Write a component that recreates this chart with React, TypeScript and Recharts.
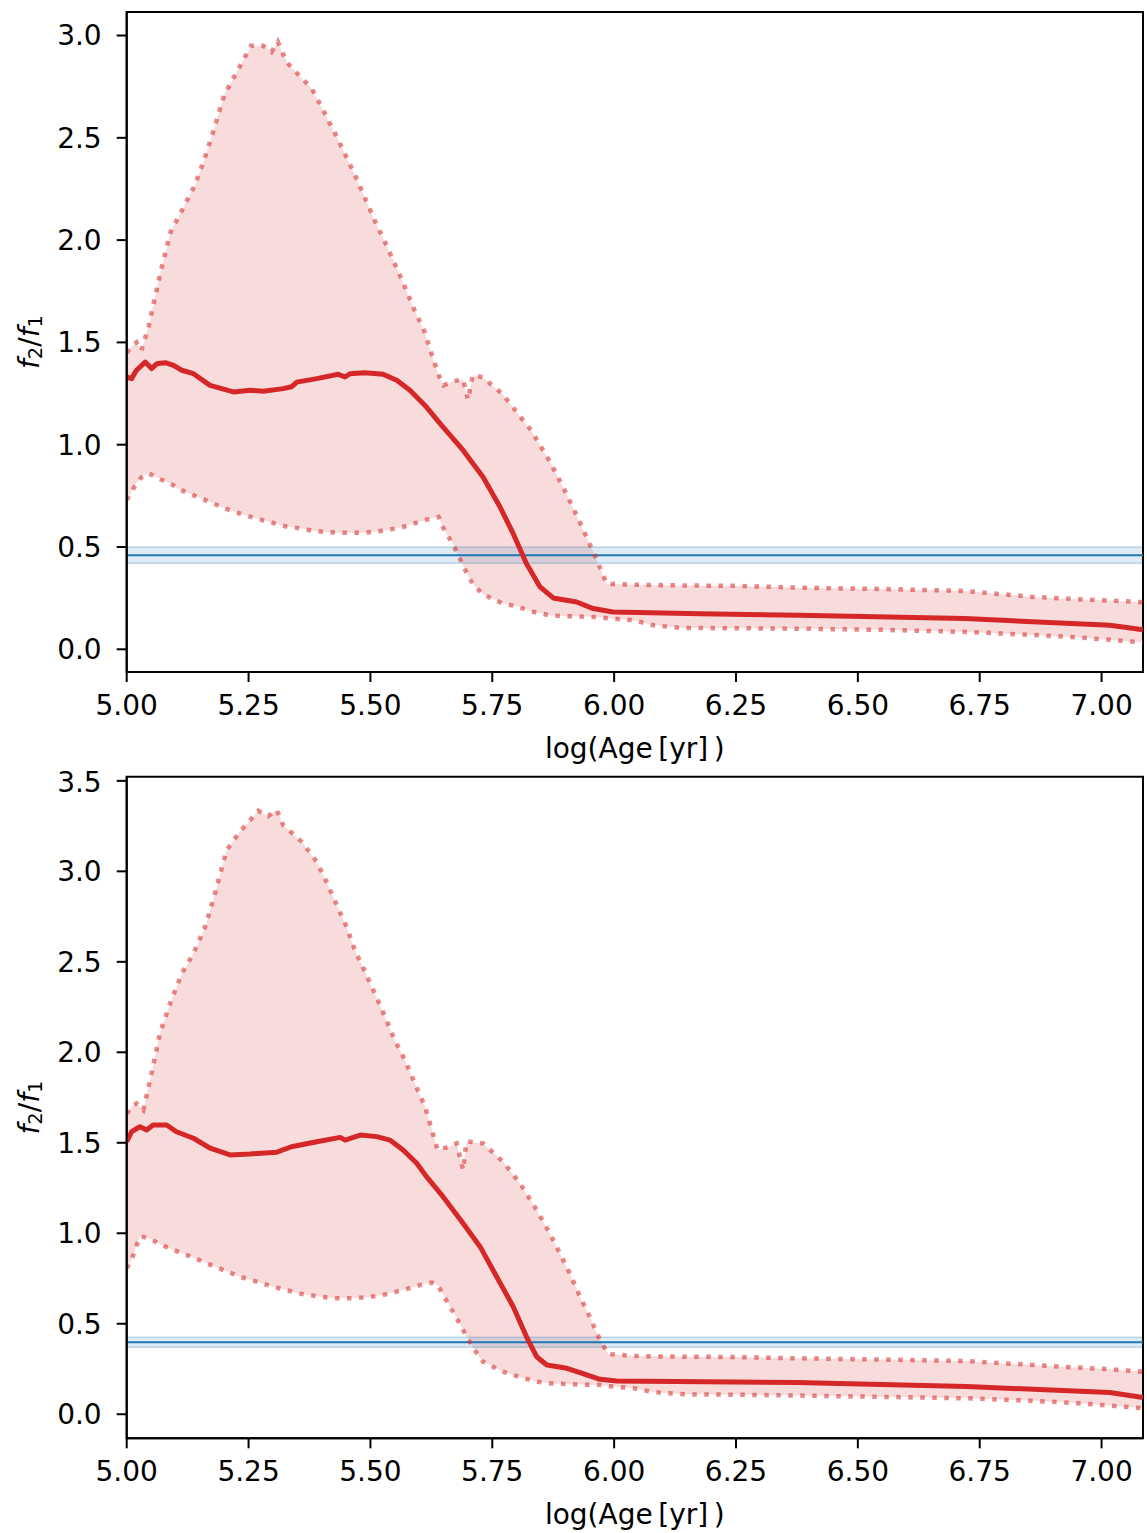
import React from "react";
import {
  ComposedChart,
  Area,
  Line,
  XAxis,
  YAxis,
  ReferenceArea,
  ReferenceLine,
} from "recharts";

const FONT = "'DejaVu Sans', sans-serif";
const RED = "#d62728";
const BLUE = "#1f77b4";
const FONT_SIZE = 28;

const AGE_MIN = 5;
const AGE_MAX = 7.085;
const AGE_TICKS = [5, 5.25, 5.5, 5.75, 6, 6.25, 6.5, 6.75, 7];

// --- upper panel ---
const BAND_AGE_A = [
  5.0, 5.01, 5.02, 5.03, 5.045, 5.07, 5.09, 5.11, 5.14, 5.16, 5.18, 5.2, 5.23,
  5.255, 5.28, 5.297, 5.31, 5.328, 5.36, 5.38, 5.4, 5.43, 5.45, 5.47, 5.49,
  5.51, 5.53, 5.55, 5.57, 5.59, 5.61, 5.626, 5.64, 5.65, 5.67, 5.69, 5.7, 5.71,
  5.73, 5.77, 5.8, 5.83, 5.87, 5.9, 5.93, 5.96, 5.985, 6.04, 6.08, 6.14, 6.25,
  6.4, 6.55, 6.72, 6.86, 6.95, 7.02, 7.085,
];
const UPPER_A = [
  1.45, 1.48, 1.5, 1.46, 1.58, 1.85, 2.04, 2.13, 2.27, 2.4, 2.55, 2.71, 2.84,
  2.95, 2.95, 2.92, 2.97, 2.87, 2.79, 2.74, 2.65, 2.51, 2.41, 2.31, 2.2, 2.09,
  1.99, 1.885, 1.775, 1.66, 1.56, 1.44, 1.34, 1.29, 1.31, 1.32, 1.22, 1.34,
  1.33, 1.25, 1.16, 1.07, 0.91, 0.77, 0.62, 0.46, 0.32, 0.316, 0.314, 0.312,
  0.31, 0.3, 0.295, 0.285, 0.256, 0.245, 0.238, 0.23,
];
const LOWER_A = [
  0.73, 0.77, 0.81, 0.84, 0.86, 0.83, 0.81, 0.78, 0.75, 0.73, 0.71, 0.69,
  0.665, 0.647, 0.63, 0.62, 0.61, 0.6, 0.59, 0.58, 0.575, 0.57, 0.57, 0.57,
  0.57, 0.575, 0.58, 0.59, 0.6, 0.615, 0.63, 0.64, 0.647, 0.59, 0.51, 0.41,
  0.36, 0.32, 0.27, 0.225, 0.21, 0.185, 0.165, 0.162, 0.16, 0.158, 0.152,
  0.142, 0.117, 0.104, 0.103, 0.1, 0.095, 0.085, 0.07, 0.058, 0.046, 0.033,
];
const MEDIAN_AGE_A = [
  5.0, 5.01, 5.02, 5.038, 5.051, 5.062, 5.079, 5.096, 5.113, 5.137, 5.171,
  5.219, 5.253, 5.28, 5.321, 5.338, 5.349, 5.39, 5.434, 5.448, 5.458, 5.489,
  5.526, 5.554, 5.581, 5.615, 5.643, 5.69, 5.731, 5.766, 5.793, 5.82, 5.848,
  5.875, 5.923, 5.957, 5.998, 6.176, 6.38, 6.72, 7.017, 7.085,
];
const MEDIAN_A = [
  1.331, 1.323, 1.364, 1.404, 1.372, 1.396, 1.401, 1.388, 1.364, 1.347, 1.29,
  1.258, 1.266, 1.261, 1.274, 1.283, 1.306, 1.323, 1.344, 1.331, 1.347, 1.352,
  1.344, 1.315, 1.266, 1.184, 1.103, 0.973, 0.842, 0.695, 0.565, 0.419, 0.305,
  0.251, 0.231, 0.199, 0.182, 0.174, 0.166, 0.15, 0.117, 0.096,
];
const OBS_A = [0.42, 0.46, 0.5];
const Y_TICKS_A = [0, 0.5, 1, 1.5, 2, 2.5, 3];

// --- lower panel ---
const BAND_AGE_B = [
  5.0, 5.01, 5.02, 5.027, 5.034, 5.044, 5.051, 5.068, 5.089, 5.113, 5.137,
  5.161, 5.181, 5.205, 5.232, 5.27, 5.29, 5.308, 5.321, 5.359, 5.39, 5.41,
  5.431, 5.451, 5.468, 5.489, 5.509, 5.53, 5.55, 5.571, 5.591, 5.612, 5.626,
  5.638, 5.663, 5.677, 5.69, 5.697, 5.704, 5.718, 5.731, 5.772, 5.807, 5.841,
  5.868, 5.909, 5.93, 5.95, 5.971, 5.988, 6.04, 6.081, 6.143, 6.25, 6.38, 6.55,
  6.723, 6.86, 6.95, 7.02, 7.085,
];
const UPPER_B = [
  1.66, 1.7, 1.718, 1.7, 1.681, 1.8, 1.884, 2.105, 2.27, 2.436, 2.547, 2.694,
  2.878, 3.118, 3.219, 3.335, 3.305, 3.339, 3.256, 3.164, 3.053, 2.943, 2.814,
  2.694, 2.565, 2.445, 2.326, 2.197, 2.068, 1.957, 1.829, 1.7, 1.571, 1.46,
  1.48, 1.497, 1.35, 1.506, 1.506, 1.5, 1.497, 1.396, 1.276, 1.129, 1.0, 0.779,
  0.65, 0.539, 0.41, 0.333, 0.322, 0.32, 0.318, 0.316, 0.309, 0.302, 0.294,
  0.272, 0.258, 0.248, 0.235,
];
const LOWER_B = [
  0.807, 0.853, 0.93, 0.981, 0.98, 0.972, 0.965, 0.94, 0.915, 0.89, 0.865,
  0.838, 0.815, 0.79, 0.76, 0.73, 0.713, 0.7, 0.69, 0.665, 0.652, 0.645, 0.641,
  0.641, 0.642, 0.645, 0.652, 0.662, 0.675, 0.69, 0.705, 0.722, 0.727, 0.714,
  0.594, 0.53, 0.466, 0.43, 0.4, 0.337, 0.29, 0.235, 0.205, 0.18, 0.17, 0.166,
  0.164, 0.163, 0.162, 0.155, 0.144, 0.122, 0.11, 0.108, 0.103, 0.096, 0.088,
  0.074, 0.061, 0.047, 0.033,
];
const MEDIAN_AGE_B = [
  5.0, 5.01, 5.027, 5.041, 5.054, 5.082, 5.102, 5.137, 5.171, 5.212, 5.253,
  5.308, 5.338, 5.39, 5.438, 5.448, 5.479, 5.513, 5.54, 5.567, 5.595, 5.615,
  5.649, 5.69, 5.725, 5.759, 5.793, 5.82, 5.841, 5.862, 5.903, 5.93, 5.971,
  6.005, 6.374, 6.723, 7.017, 7.085,
];
const MEDIAN_B = [
  1.506, 1.561, 1.589, 1.571, 1.598, 1.598, 1.561, 1.525, 1.47, 1.433, 1.438,
  1.448, 1.478, 1.506, 1.53, 1.515, 1.543, 1.534, 1.515, 1.46, 1.387, 1.313,
  1.202, 1.055, 0.926, 0.76, 0.594, 0.429, 0.318, 0.272, 0.254, 0.23, 0.193,
  0.184, 0.175, 0.153, 0.12, 0.092,
];
const OBS_B = [0.37, 0.398, 0.425];
const Y_TICKS_B = [0, 0.5, 1, 1.5, 2, 2.5, 3, 3.5];

const tickStyle = { fill: "#000", fontSize: FONT_SIZE, fontFamily: FONT };
const axisLine = { stroke: "#000", strokeWidth: 2 };

const renderYLabel = (props: any) => {
  const vb = props.viewBox;
  const cx = vb.x + 29;
  const cy = vb.y + vb.height / 2;
  return (
    <text
      x={cx}
      y={cy}
      transform={`rotate(-90, ${cx}, ${cy})`}
      textAnchor="middle"
      dominantBaseline="central"
      fontSize={FONT_SIZE}
      fontFamily={FONT}
      fill="#000"
    >
      <tspan fontStyle="italic">f</tspan>
      <tspan fontSize={19.5} dy={6}>2</tspan>
      <tspan dy={-6}>/</tspan>
      <tspan fontStyle="italic">f</tspan>
      <tspan fontSize={19.5} dy={6}>1</tspan>
    </text>
  );
};

const renderXLabel = (props: any) => {
  const vb = props.viewBox;
  return (
    <text
      x={vb.x + vb.width / 2}
      y={vb.y + 76}
      textAnchor="middle"
      dominantBaseline="central"
      fontSize={FONT_SIZE}
      fontFamily={FONT}
      fill="#000"
    >
      {"log(Age\u2009[yr]\u2009)"}
    </text>
  );
};

interface PanelProps {
  top: number;
  height: number;
  plotTop: number;
  axisHeight: number;
  bandAge: number[];
  upper: number[];
  lower: number[];
  medianAge: number[];
  median: number[];
  obs: number[];
  yDomain: [number, number];
  yTicks: number[];
}

const boundStyle = {
  stroke: RED,
  strokeOpacity: 0.55,
  strokeWidth: 4.5,
  strokeDasharray: "4.5 7.5",
  strokeLinecap: "butt" as const,
};

const Panel = ({
  top,
  height,
  plotTop,
  axisHeight,
  bandAge,
  upper,
  lower,
  medianAge,
  median,
  obs,
  yDomain,
  yTicks,
}: PanelProps) => {
  const band = bandAge.map((age, i) => ({ age, hi: upper[i], lo: lower[i] }));
  const med = medianAge.map((age, i) => ({ age, med: median[i] }));

  return (
    <div style={{ position: "absolute", left: 0, top, width: 1147, height }}>
      <ComposedChart
        width={1147}
        height={height}
        data={band}
        margin={{ top: plotTop, right: 4, bottom: 0, left: 0 }}
      >
        <XAxis
          type="number"
          dataKey="age"
          domain={[AGE_MIN, AGE_MAX]}
          allowDataOverflow
          ticks={AGE_TICKS}
          tickFormatter={(v: number) => v.toFixed(2)}
          tick={tickStyle}
          tickSize={10}
          tickMargin={13}
          tickLine={axisLine}
          axisLine={axisLine}
          height={axisHeight}
          label={renderXLabel}
        />
        <YAxis
          type="number"
          domain={yDomain}
          allowDataOverflow
          ticks={yTicks}
          tickFormatter={(v: number) => v.toFixed(1)}
          tick={tickStyle}
          tickSize={10}
          tickMargin={15}
          tickLine={axisLine}
          axisLine={axisLine}
          width={126.7}
          label={renderYLabel}
        />
        <Area
          dataKey={(d: any) => [d.lo, d.hi]}
          stroke="none"
          fill={RED}
          fillOpacity={0.16}
          isAnimationActive={false}
          activeDot={false}
        />
        <ReferenceArea
          y1={obs[0]}
          y2={obs[2]}
          fill={BLUE}
          fillOpacity={0.15}
          stroke={BLUE}
          strokeOpacity={0.25}
          strokeWidth={1.5}
        />
        <ReferenceLine y={obs[1]} stroke={BLUE} strokeWidth={2} />
        <Line
          dataKey="hi"
          {...boundStyle}
          dot={false}
          activeDot={false}
          isAnimationActive={false}
        />
        <Line
          dataKey="lo"
          {...boundStyle}
          dot={false}
          activeDot={false}
          isAnimationActive={false}
        />
        <Line
          data={med}
          dataKey="med"
          stroke={RED}
          strokeWidth={5}
          strokeLinejoin="round"
          dot={false}
          activeDot={false}
          isAnimationActive={false}
        />
        {/* frame around the plotting area */}
        <ReferenceArea
          x1={AGE_MIN}
          x2={AGE_MAX}
          y1={yDomain[0]}
          y2={yDomain[1]}
          fill="none"
          stroke="#000"
          strokeWidth={2}
          ifOverflow="visible"
        />
      </ComposedChart>
    </div>
  );
};

const App = () => (
  <div
    style={{
      position: "absolute",
      left: 0,
      top: 0,
      width: 1147,
      height: 1533,
      background: "#fff",
    }}
  >
    <Panel
      top={0}
      height={766}
      plotTop={12}
      axisHeight={94}
      bandAge={BAND_AGE_A}
      upper={UPPER_A}
      lower={LOWER_A}
      medianAge={MEDIAN_AGE_A}
      median={MEDIAN_A}
      obs={OBS_A}
      yDomain={[-0.111, 3.115]}
      yTicks={Y_TICKS_A}
    />
    <Panel
      top={766}
      height={767}
      plotTop={10.7}
      axisHeight={94.7}
      bandAge={BAND_AGE_B}
      upper={UPPER_B}
      lower={LOWER_B}
      medianAge={MEDIAN_AGE_B}
      median={MEDIAN_B}
      obs={OBS_B}
      yDomain={[-0.133, 3.523]}
      yTicks={Y_TICKS_B}
    />
  </div>
);

export default App;
